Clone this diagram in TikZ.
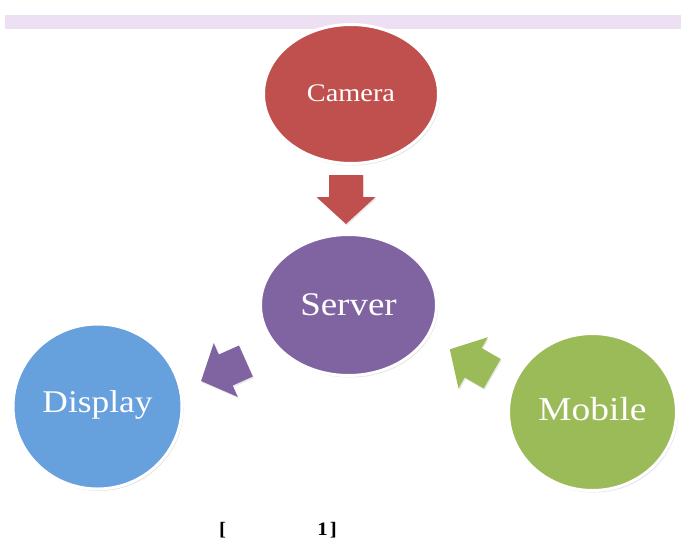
\documentclass[tikz,border=0pt]{standalone}
\usepackage{fontspec}
\setmainfont{Liberation Serif}[FakeStretch=1.12]
\newfontfamily\capfont{Liberation Serif}[FakeStretch=1.1]
\usetikzlibrary{calc,shadows,shapes.geometric}
\definecolor{barcol}{RGB}{237,224,242}
\definecolor{camcol}{RGB}{192,80,77}
\definecolor{srvcol}{RGB}{128,100,162}
\definecolor{dspcol}{RGB}{102,160,221}
\definecolor{mobcol}{RGB}{155,187,89}
\tikzset{
  bubble/.style={ellipse, draw=white, line width=3pt, inner sep=0pt, text=white,
    drop shadow={opacity=0.22, shadow xshift=1.5pt, shadow yshift=-2pt}},
  captxt/.style={inner sep=0pt, font=\capfont\bfseries\fontsize{19}{19}\selectfont},
  blkshadow/.style={drop shadow={opacity=0.18, shadow xshift=1pt, shadow yshift=-1.5pt}}
}
\newcommand\blkarrow[3]{% tail, tip, colour
  \coordinate (#1h) at ($(#2)!27pt!(#1)$);
  \fill[#3, blkshadow] ($(#1)!17pt!90:(#2)$) -- ($(#1h)!17pt!90:(#2)$)
    -- ($(#1h)!29.5pt!90:(#2)$) -- (#2) -- ($(#1h)!29.5pt!-90:(#2)$)
    -- ($(#1h)!17pt!-90:(#2)$) -- ($(#1)!17pt!-90:(#2)$) -- cycle;
}
\begin{document}
\begin{tikzpicture}[x=1pt,y=-1pt]
\useasboundingbox (0,0) rectangle (681,539);
% top bar
\fill[barcol] (5,15) rectangle (681,29);
% bubbles
\node[bubble, fill=camcol, minimum width=175pt, minimum height=139pt,
      text height=14pt, text depth=0pt, font=\fontsize{25.3}{25}\selectfont]
      (camera) at (351,94) {Camera};
\node[bubble, fill=srvcol, minimum width=176pt, minimum height=141pt,
      text height=20pt, text depth=0pt, font=\fontsize{33}{33}\selectfont]
      (server) at (348.5,305) {Server};
\node[bubble, fill=dspcol, minimum width=169pt, minimum height=165pt,
      text height=17pt, text depth=6pt, font=\fontsize{31.6}{32}\selectfont]
      (display) at (97.5,406.5) {Display};
\node[bubble, fill=mobcol, minimum width=168pt, minimum height=157pt,
      text height=16pt, text depth=0pt, font=\fontsize{33.4}{33}\selectfont]
      (mobile) at (592.5,412) {Mobile};
% block arrows
\coordinate (a1t) at (346,175);  \coordinate (a1p) at (346,224);
\coordinate (a2t) at (245.9,361); \coordinate (a2p) at (201.1,381);
\coordinate (a3t) at (492.2,373.7); \coordinate (a3p) at (449.8,349.3);
\blkarrow{a1t}{a1p}{camcol}
\blkarrow{a2t}{a2p}{srvcol}
\blkarrow{a3t}{a3p}{mobcol}
% caption
\node[captxt, anchor=base west] (lbr) at (219,535) {[};
\node[captxt, anchor=base east] (rbr) at (337,535) {1\kern2pt]};
\end{tikzpicture}
\end{document}
